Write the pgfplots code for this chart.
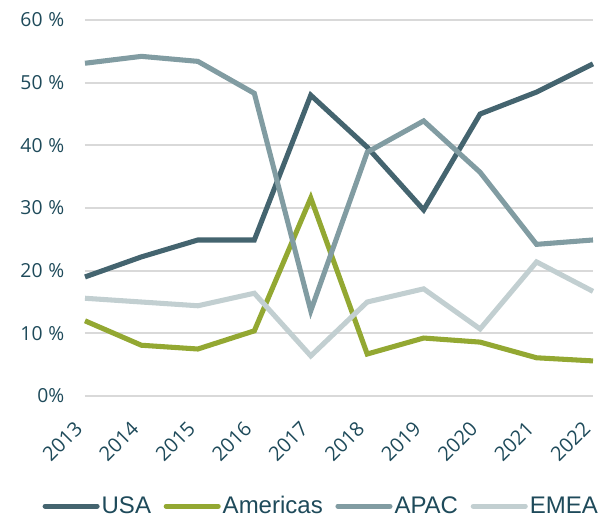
\documentclass[border=0pt]{standalone}
\usepackage{fontspec}
\setmainfont{Open Sans}
\newfontfamily\legfont{Liberation Sans}
\usepackage{pgfplots}
\pgfplotsset{compat=1.18}
\definecolor{usa}{HTML}{44646F}
\definecolor{amer}{HTML}{93A832}
\definecolor{apac}{HTML}{819CA2}
\definecolor{emea}{HTML}{C2CFD1}
\definecolor{txt}{HTML}{1E4A5A}
\definecolor{gridc}{HTML}{D9D9D9}
\newcommand{\pc}{\hspace{0.3em}\%}
\begin{document}
\begin{tikzpicture}
\path[use as bounding box] (-63.75pt,-91.5pt) rectangle (393pt,297pt);
\begin{axis}[
    at={(0,0)}, anchor=south west,
    scale only axis,
    width=381pt, height=282pt,
    xmin=2013, xmax=2022,
    ymin=0, ymax=60,
    xtick={2013,2014,2015,2016,2017,2018,2019,2020,2021,2022},
    xticklabels={2013,2014,2015,2016,2017,2018,2019,2020,2021,2022},
    ytick={0,10,20,30,40,50,60},
    yticklabels={0\%,10\pc,20\pc,30\pc,40\pc,50\pc,60\pc},
    xticklabel style={xshift=-4pt, yshift=-21pt, rotate=45, anchor=east, font=\fontsize{15}{17}\selectfont, text=txt, inner sep=1pt},
    yticklabel style={font=\fontsize{14.5}{16}\selectfont, text=txt, xshift=-12pt},
    axis line style={draw=none},
    major tick length=0pt,
    ymajorgrids=true,
    grid style={gridc, line width=1.5pt},
    clip=false,
    every axis plot/.append style={line width=3.8pt, line join=miter, no markers},
    legend columns=4,
    legend style={at={(0.465,-0.293)}, anchor=center, draw=none, fill=none,
        font=\legfont\fontsize{18}{20}\selectfont, text=txt,
        nodes={inner sep=1.5pt},
        /tikz/every even column/.append style={column sep=8pt}},
    legend image code/.code={\draw[#1, line cap=round, line width=3.8pt] (0pt,0pt) -- (39pt,0pt);},
]
\addplot[usa] coordinates {
(2013,19.0)(2014,22.2)(2015,24.9)(2016,24.9)(2017,48.0)(2018,39.7)(2019,29.7)(2020,45.0)(2021,48.5)(2022,53.0)};
\addplot[amer] coordinates {
(2013,12.0)(2014,8.1)(2015,7.5)(2016,10.4)(2017,31.6)(2018,6.7)(2019,9.25)(2020,8.6)(2021,6.1)(2022,5.6)};
\addplot[apac] coordinates {
(2013,53.1)(2014,54.2)(2015,53.4)(2016,48.3)(2017,13.6)(2018,38.9)(2019,43.9)(2020,35.7)(2021,24.2)(2022,24.9)};
\addplot[emea] coordinates {
(2013,15.6)(2014,15.0)(2015,14.4)(2016,16.4)(2017,6.4)(2018,15.0)(2019,17.1)(2020,10.7)(2021,21.4)(2022,16.7)};
\legend{USA,Americas,APAC,EMEA}
\end{axis}
\end{tikzpicture}
\end{document}
